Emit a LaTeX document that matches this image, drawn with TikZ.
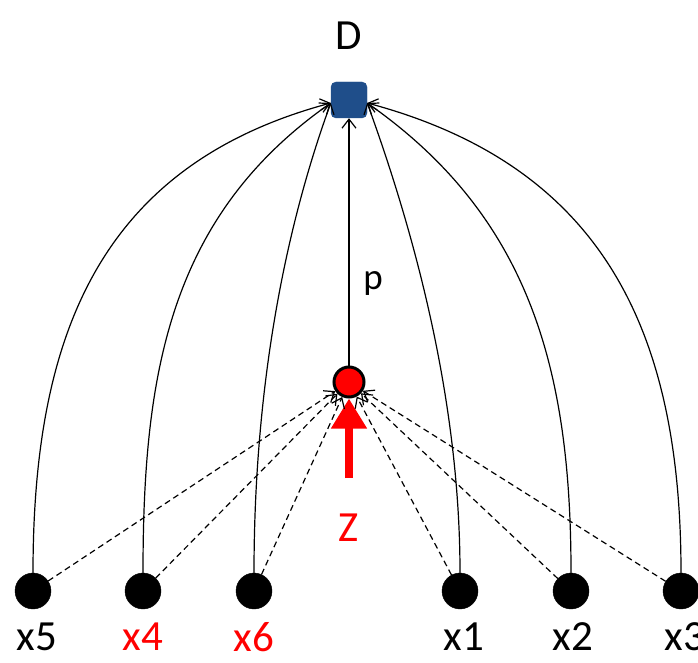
\documentclass[tikz,border=0pt]{standalone}
\usepackage{fontspec}
\setmainfont{Carlito}
\usetikzlibrary{arrows.meta, positioning}
\definecolor{dblue}{RGB}{31,78,138}
\begin{document}
\begin{tikzpicture}[
  x=1pt, y=-1pt,
  var/.style={draw, circle, fill=black, minimum size=36pt, inner sep=0pt},
  lbl/.style={font=\fontsize{43}{43}\selectfont, inner sep=0pt},
  link/.style={-{Straight Barb[length=9pt,width=14pt]}, line width=1.2pt},
  hint/.style={link, dashed, dash pattern=on 6pt off 4pt},
]
  \useasboundingbox (0,0) rectangle (698,663);
  % top and middle
  \node[draw=dblue, fill=dblue, rounded corners=5pt, minimum size=36pt,
        inner sep=0pt] (D) at (349,100) {};
  \node[lbl] (Dl) at (349,36) {D};
  \node[draw, circle, fill=red, line width=3pt, minimum size=30pt,
        inner sep=0pt] (Z) at (349,382) {};
  \node[lbl, text=red] (Zl) at (349,528) {Z};
  \node[lbl, font=\fontsize{37}{37}\selectfont] (pl) at (373,283) {p};
  \draw[link] (Z) -- (D);
  \coordinate (zs) at (349,478);
  \draw[-{Triangle[length=30pt,width=34pt]}, red, line width=8pt] (zs) -- (Z.south);
  % bottom row
  \node[var] (x5) at (33,591) {};
  \node[var] (x4) at (143,591) {};
  \node[var] (x6) at (254,591) {};
  \node[var] (x1) at (460,591) {};
  \node[var] (x2) at (571,591) {};
  \node[var] (x3) at (681,591) {};
  \node[lbl] at (37,637) {x5};
  \node[lbl, text=red] at (143,637) {x4};
  \node[lbl, text=red] at (254,637) {x6};
  \node[lbl] at (464,637) {x1};
  \node[lbl] at (573,637) {x2};
  \node[lbl] at (685,637) {x3};
  % curves into D
  \draw[link] (x5.north) to[out=90, in=195, looseness=1.1] ([yshift=-3pt]D.west);
  \draw[link] (x4.north) to[out=90, in=215, looseness=1.0] ([yshift=-3pt]D.west);
  \draw[link] (x6.north) to[out=90, in=250, looseness=0.85] ([yshift=-3pt]D.west);
  \draw[link] (x1.north) to[out=90, in=-70, looseness=0.85] ([yshift=-3pt]D.east);
  \draw[link] (x2.north) to[out=90, in=-35, looseness=1.0] ([yshift=-3pt]D.east);
  \draw[link] (x3.north) to[out=90, in=-15, looseness=1.1] ([yshift=-3pt]D.east);
  % dashed hints into Z
  \draw[hint] (x5) -- (Z);
  \draw[hint] (x4) -- (Z);
  \draw[hint] (x6) -- (Z);
  \draw[hint] (x1) -- (Z);
  \draw[hint] (x2) -- (Z);
  \draw[hint] (x3) -- (Z);
\end{tikzpicture}
\end{document}
